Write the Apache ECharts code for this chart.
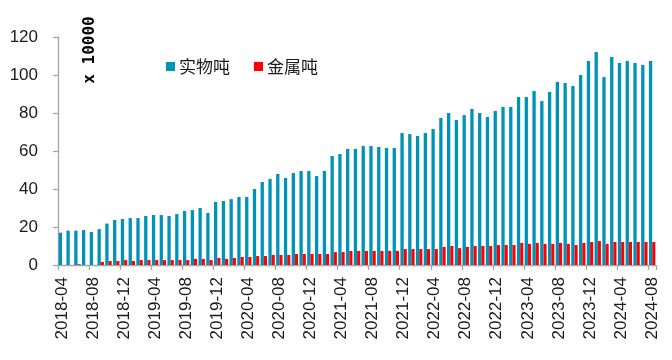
<!DOCTYPE html>
<html>
<head>
<meta charset="utf-8">
<script src="https://cdn.jsdelivr.net/npm/echarts@6/dist/echarts.min.js"></script>
<style>
html,body{margin:0;padding:0;background:#fff;}
#chart{width:672px;height:360px;}
</style>
</head>
<body>
<div id="chart"></div>
<script>
var categories = [
 "2018-04","2018-05","2018-06","2018-07","2018-08","2018-09","2018-10","2018-11","2018-12",
 "2019-01","2019-02","2019-03","2019-04","2019-05","2019-06","2019-07","2019-08","2019-09","2019-10","2019-11","2019-12",
 "2020-01","2020-02","2020-03","2020-04","2020-05","2020-06","2020-07","2020-08","2020-09","2020-10","2020-11","2020-12",
 "2021-01","2021-02","2021-03","2021-04","2021-05","2021-06","2021-07","2021-08","2021-09","2021-10","2021-11","2021-12",
 "2022-01","2022-02","2022-03","2022-04","2022-05","2022-06","2022-07","2022-08","2022-09","2022-10","2022-11","2022-12",
 "2023-01","2023-02","2023-03","2023-04","2023-05","2023-06","2023-07","2023-08","2023-09","2023-10","2023-11","2023-12",
 "2024-01","2024-02","2024-03","2024-04","2024-05","2024-06","2024-07","2024-08"
];
var physicalTons = [
 17.0,18.1,18.1,18.4,17.4,18.9,21.8,23.7,24.2,
 24.7,24.7,25.8,26.3,26.3,25.8,26.8,28.4,28.9,30.0,27.4,33.2,
 33.7,34.7,35.8,35.8,40.0,43.7,45.3,47.9,45.8,48.4,49.5,49.5,
 46.8,49.5,57.4,58.4,61.1,61.1,62.6,62.6,62.1,61.6,61.6,69.5,
 68.9,67.9,69.5,71.6,77.4,80.0,76.3,78.9,82.1,80.0,77.9,81.1,
 83.2,83.2,88.4,88.4,91.6,86.3,91.1,96.3,95.8,94.2,100.0,107.4,
 112.1,98.9,109.5,106.3,107.4,106.3,105.3,107.4
];
var metalTons = [
 0,0,0.4,0,0,1.6,2.1,2.1,2.6,
 2.1,2.6,2.6,2.6,2.6,2.6,2.6,2.6,3.2,3.2,2.6,3.7,
 3.2,3.7,4.2,4.2,4.7,4.7,5.3,5.3,5.3,5.8,5.8,5.8,
 5.8,5.8,6.8,6.8,7.4,7.4,7.4,7.4,7.4,7.4,7.4,8.4,
 8.4,8.4,8.4,8.4,9.5,10.0,8.9,9.5,10.0,10.0,10.0,10.5,
 10.5,10.5,11.6,11.1,11.6,11.1,11.1,11.6,11.1,10.5,11.6,12.1,
 12.6,11.1,12.1,12.1,12.1,12.1,12.1,12.1
];
var yTicks = {min:0, max:120, interval:20};
var seriesNames = ["实物吨","金属吨"];
var unitLabel = "x 10000";

var chart = echarts.init(document.getElementById('chart'), null, {renderer:'canvas'});
var axisGray = '#A6A6A6';
var txtFont = '"Liberation Sans", Arial, "Noto Sans CJK SC", sans-serif';
chart.setOption({
  animation:false,
  backgroundColor:'#fff',
  grid:{left:58, right:16, top:37, bottom:95, containLabel:false},
  legend:{
    left:161, top:53, itemWidth:9, itemHeight:9, itemGap:24, icon:'rect',
    textStyle:{fontSize:17, color:'#1a1a1a', fontFamily:'"Noto Sans CJK SC", sans-serif', padding:[0,0,0,-1]},
    data:seriesNames
  },
  graphic:[{
    type:'text', x:90, y:50, rotation:Math.PI/2,
    style:{text:unitLabel, font:'bold 16px "DejaVu Sans Mono", monospace', fill:'#000', textAlign:'center', textVerticalAlign:'middle'}
  }],
  xAxis:{
    type:'category', data:categories, boundaryGap:true,
    axisLine:{lineStyle:{color:axisGray, width:1.3}},
    axisTick:{show:true, interval:3, length:5, lineStyle:{color:axisGray, width:1.3}},
    axisLabel:{interval:3, rotate:90, fontSize:17, color:'#1a1a1a', fontFamily:txtFont, margin:12, padding:[0,0,0,0]},
    splitLine:{show:false}
  },
  yAxis:{
    type:'value', min:yTicks.min, max:yTicks.max, interval:yTicks.interval,
    axisLine:{show:true, lineStyle:{color:axisGray, width:1.3}},
    axisTick:{show:true, length:5, lineStyle:{color:axisGray, width:1.3}},
    axisLabel:{fontSize:17, color:'#1a1a1a', fontFamily:txtFont, margin:20},
    splitLine:{show:false}
  },
  series:[
    {name:seriesNames[0], type:'bar', data:physicalTons, itemStyle:{color:'#0093B8'}, barWidth:3.3, barGap:'0%'},
    {name:seriesNames[1], type:'bar', data:metalTons, itemStyle:{color:'#FF0000'}, barWidth:3.1, barGap:'0%'}
  ]
});
</script>
</body>
</html>
